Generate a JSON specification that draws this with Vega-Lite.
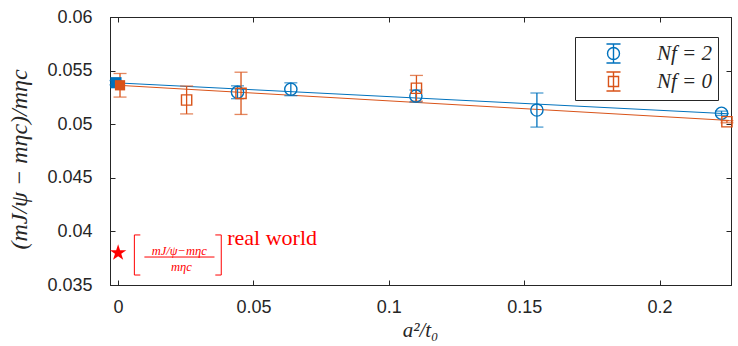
{
  "$schema": "https://vega.github.io/schema/vega-lite/v6.json",
  "width": 621,
  "height": 268,
  "autosize": {"type": "none"},
  "padding": {"left": 110, "top": 17, "right": 7, "bottom": 61},
  "background": "white",
  "config": {
    "view": {"stroke": "#262626", "strokeWidth": 1},
    "axis": {
      "grid": false,
      "domainColor": "#262626",
      "tickColor": "#262626",
      "tickSize": -5,
      "labelFont": "Liberation Sans",
      "labelFontSize": 18,
      "labelColor": "#262626",
      "titleFont": "Liberation Serif",
      "titleFontStyle": "italic",
      "titleFontWeight": "normal",
      "titleFontSize": 21,
      "titleColor": "#262626"
    }
  },
  "datasets": {
    "pts": [
      {"series": "Nf = 2", "a2t0": 0.0441, "r": 0.05298, "err": 0.0006},
      {"series": "Nf = 2", "a2t0": 0.0638, "r": 0.05326, "err": 0.0006},
      {"series": "Nf = 2", "a2t0": 0.1100, "r": 0.05263, "err": 0.00056},
      {"series": "Nf = 2", "a2t0": 0.1547, "r": 0.05132, "err": 0.00159},
      {"series": "Nf = 2", "a2t0": 0.2229, "r": 0.05102, "err": 0.0002},
      {"series": "Nf = 0", "a2t0": 0.0253, "r": 0.05226, "err": 0.0013},
      {"series": "Nf = 0", "a2t0": 0.0454, "r": 0.05288, "err": 0.00197},
      {"series": "Nf = 0", "a2t0": 0.1102, "r": 0.05335, "err": 0.0012},
      {"series": "Nf = 0", "a2t0": 0.2249, "r": 0.05023, "err": 0.0001}
    ],
    "ext": [
      {"series": "Nf = 2", "a2t0": -0.0008, "r": 0.05387, "err": 0.0002},
      {"series": "Nf = 0", "a2t0": 0.0007, "r": 0.05363, "err": 0.0011}
    ],
    "fit": [
      {"series": "Nf = 2", "a2t0": 0.0, "r": 0.05385},
      {"series": "Nf = 2", "a2t0": 0.2256, "r": 0.05097},
      {"series": "Nf = 0", "a2t0": 0.0, "r": 0.05363},
      {"series": "Nf = 0", "a2t0": 0.2256, "r": 0.05035}
    ],
    "phys": [{"a2t0": 0.0, "r": 0.038}],
    "ann": [
      {"piece": "frac", "a2t0": 0.0226, "r": 0.03817, "t": "mJ/ψ−mηc"},
      {"piece": "frac", "a2t0": 0.0234, "r": 0.03668, "t": "mηc"},
      {"piece": "label", "a2t0": 0.0403, "r": 0.03938, "t": "real world"}
    ],
    "segs": [
      {"a2t0": 0.0097, "a2t0_end": 0.0356, "r": 0.03761, "r_end": 0.03761},
      {"a2t0": 0.0060, "a2t0_end": 0.0060, "r": 0.03967, "r_end": 0.03593},
      {"a2t0": 0.0060, "a2t0_end": 0.0082, "r": 0.03967, "r_end": 0.03967},
      {"a2t0": 0.0060, "a2t0_end": 0.0082, "r": 0.03593, "r_end": 0.03593},
      {"a2t0": 0.0381, "a2t0_end": 0.0381, "r": 0.03967, "r_end": 0.03593},
      {"a2t0": 0.0359, "a2t0_end": 0.0381, "r": 0.03967, "r_end": 0.03967},
      {"a2t0": 0.0359, "a2t0_end": 0.0381, "r": 0.03593, "r_end": 0.03593}
    ]
  },
  "resolve": {"axis": {"x": "independent", "y": "independent"}},
  "layer": [
    {
      "layer": [
        {
          "data": {"name": "fit"},
          "transform": [{"filter": "datum.series == 'Nf = 2'"}],
          "mark": {"type": "line", "color": "#0072BD", "strokeWidth": 1},
          "encoding": {
            "x": {"field": "a2t0", "type": "quantitative", "title": "a²/t₀", "scale": {"domain": [-0.003, 0.2264], "nice": false, "zero": false},
              "axis": {"values": [0, 0.05, 0.1, 0.15, 0.2], "labelExpr": "datum.value", "labelPadding": 18, "titleX": 310, "titleY": 45, "titleBaseline": "middle", "titleAnchor": null}},
            "y": {"field": "r", "type": "quantitative", "title": "(mJ/ψ − mηc)/mηc", "scale": {"domain": [0.035, 0.06], "nice": false, "zero": false},
              "axis": {"values": [0.035, 0.04, 0.045, 0.05, 0.055, 0.06], "labelExpr": "datum.value", "labelPadding": 23, "titleX": -91, "titleY": 142, "titleAlign": "center", "titleBaseline": "middle", "titleAnchor": null, "titleFontSize": 24}}
          }
        },
        {
          "data": {"name": "fit"},
          "transform": [{"filter": "datum.series == 'Nf = 0'"}],
          "mark": {"type": "line", "color": "#D95319", "strokeWidth": 1},
          "encoding": {
            "x": {"field": "a2t0", "type": "quantitative", "title": "a²/t₀"},
            "y": {"field": "r", "type": "quantitative", "title": "(mJ/ψ − mηc)/mηc"}
          }
        },
        {
          "data": {"name": "pts"},
          "transform": [{"filter": "datum.series == 'Nf = 2'"}],
          "mark": {"type": "errorbar", "ticks": {"size": 13}, "color": "#0072BD", "thickness": 1.3},
          "encoding": {
            "x": {"field": "a2t0", "type": "quantitative", "title": "a²/t₀"},
            "y": {"field": "r", "type": "quantitative", "title": "(mJ/ψ − mηc)/mηc"},
            "yError": {"field": "err"}
          }
        },
        {
          "data": {"name": "pts"},
          "transform": [{"filter": "datum.series == 'Nf = 0'"}],
          "mark": {"type": "errorbar", "ticks": {"size": 13}, "color": "#D95319", "thickness": 1.3},
          "encoding": {
            "x": {"field": "a2t0", "type": "quantitative", "title": "a²/t₀"},
            "y": {"field": "r", "type": "quantitative", "title": "(mJ/ψ − mηc)/mηc"},
            "yError": {"field": "err"}
          }
        },
        {
          "data": {"name": "ext"},
          "transform": [{"filter": "datum.series == 'Nf = 0'"}],
          "mark": {"type": "errorbar", "ticks": {"size": 13}, "color": "#D95319", "thickness": 1.3},
          "encoding": {
            "x": {"field": "a2t0", "type": "quantitative", "title": "a²/t₀"},
            "y": {"field": "r", "type": "quantitative", "title": "(mJ/ψ − mηc)/mηc"},
            "yError": {"field": "err"}
          }
        },
        {
          "data": {"name": "ext"},
          "transform": [{"filter": "datum.series == 'Nf = 2'"}],
          "mark": {"type": "errorbar", "ticks": {"size": 13}, "color": "#0072BD", "thickness": 1.3},
          "encoding": {
            "x": {"field": "a2t0", "type": "quantitative", "title": "a²/t₀"},
            "y": {"field": "r", "type": "quantitative", "title": "(mJ/ψ − mηc)/mηc"},
            "yError": {"field": "err"}
          }
        },
        {
          "data": {"name": "pts"},
          "transform": [{"filter": "datum.series == 'Nf = 2'"}],
          "mark": {"type": "point", "shape": "circle", "filled": false, "color": "#0072BD", "size": 150, "strokeWidth": 1.4, "opacity": 1},
          "encoding": {
            "x": {"field": "a2t0", "type": "quantitative", "title": "a²/t₀"},
            "y": {"field": "r", "type": "quantitative", "title": "(mJ/ψ − mηc)/mηc"}
          }
        },
        {
          "data": {"name": "pts"},
          "transform": [{"filter": "datum.series == 'Nf = 0'"}],
          "mark": {"type": "point", "shape": "square", "filled": false, "color": "#D95319", "size": 105, "strokeWidth": 1.4, "opacity": 1},
          "encoding": {
            "x": {"field": "a2t0", "type": "quantitative", "title": "a²/t₀"},
            "y": {"field": "r", "type": "quantitative", "title": "(mJ/ψ − mηc)/mηc"}
          }
        },
        {
          "data": {"name": "pts"},
          "mark": {"type": "point", "filled": false, "strokeWidth": 1.4, "opacity": 0},
          "encoding": {
            "x": {"field": "a2t0", "type": "quantitative", "title": "a²/t₀"},
            "y": {"field": "r", "type": "quantitative", "title": "(mJ/ψ − mηc)/mηc"},
            "color": {"field": "series", "type": "nominal", "scale": {"domain": ["Nf = 2", "Nf = 0"], "range": ["#0072BD", "#D95319"]},
              "legend": {"title": null, "orient": "none", "legendX": 465, "legendY": 20, "direction": "vertical", "columns": 1, "strokeColor": "#262626", "fillColor": "white", "padding": 6,
                "symbolOffset": 22, "labelOffset": 88, "labelAlign": "right", "columnPadding": 0, "labelFont": "Liberation Serif", "labelFontStyle": "italic", "labelFontSize": 21, "labelColor": "#262626",
                "symbolSize": 361, "symbolStrokeWidth": 1.4, "symbolOpacity": 1, "symbolFillColor": "transparent", "rowPadding": 3, "labelLimit": 300}},
            "shape": {"field": "series", "type": "nominal", "scale": {"domain": ["Nf = 2", "Nf = 0"], "range": [
              "M-0.74,-1H0.74M0,-1V1M-0.74,1H0.74M0.63,0A0.63,0.63 0 1 1 -0.63,0A0.63,0.63 0 1 1 0.63,0",
              "M-0.74,-1H0.74M0,-1V1M-0.74,1H0.74M-0.53,-0.53H0.53V0.53H-0.53Z"]}}
          }
        },
        {
          "data": {"name": "ext"},
          "transform": [{"filter": "datum.series == 'Nf = 2'"}],
          "mark": {"type": "point", "shape": "square", "filled": true, "color": "#0072BD", "size": 125, "opacity": 1},
          "encoding": {
            "x": {"field": "a2t0", "type": "quantitative", "title": "a²/t₀"},
            "y": {"field": "r", "type": "quantitative", "title": "(mJ/ψ − mηc)/mηc"}
          }
        },
        {
          "data": {"name": "ext"},
          "transform": [{"filter": "datum.series == 'Nf = 0'"}],
          "mark": {"type": "point", "shape": "square", "filled": true, "color": "#D95319", "size": 105, "opacity": 1},
          "encoding": {
            "x": {"field": "a2t0", "type": "quantitative", "title": "a²/t₀"},
            "y": {"field": "r", "type": "quantitative", "title": "(mJ/ψ − mηc)/mηc"}
          }
        },
        {
          "data": {"name": "phys"},
          "mark": {"type": "point", "shape": "M0,-1L0.2245,-0.309L0.951,-0.309L0.363,0.118L0.588,0.809L0,0.382L-0.588,0.809L-0.363,0.118L-0.951,-0.309L-0.2245,-0.309Z", "filled": true, "color": "#FF0000", "size": 300, "opacity": 1},
          "encoding": {
            "x": {"field": "a2t0", "type": "quantitative", "title": "a²/t₀"},
            "y": {"field": "r", "type": "quantitative", "title": "(mJ/ψ − mηc)/mηc"}
          }
        },
        {
          "data": {"name": "ann"},
          "transform": [{"filter": "datum.piece == 'frac'"}],
          "mark": {"type": "text", "font": "Liberation Serif", "fontStyle": "italic", "fontSize": 12.5, "color": "#FF0000", "baseline": "middle", "align": "center"},
          "encoding": {
            "x": {"field": "a2t0", "type": "quantitative", "title": "a²/t₀"},
            "y": {"field": "r", "type": "quantitative", "title": "(mJ/ψ − mηc)/mηc"},
            "text": {"field": "t"}
          }
        },
        {
          "data": {"name": "ann"},
          "transform": [{"filter": "datum.piece == 'label'"}],
          "mark": {"type": "text", "font": "Liberation Serif", "fontSize": 22, "color": "#FF0000", "baseline": "middle", "align": "left"},
          "encoding": {
            "x": {"field": "a2t0", "type": "quantitative", "title": "a²/t₀"},
            "y": {"field": "r", "type": "quantitative", "title": "(mJ/ψ − mηc)/mηc"},
            "text": {"field": "t"}
          }
        },
        {
          "data": {"name": "segs"},
          "mark": {"type": "rule", "color": "#FF0000", "strokeWidth": 1},
          "encoding": {
            "x": {"field": "a2t0", "type": "quantitative", "title": "a²/t₀"},
            "x2": {"field": "a2t0_end"},
            "y": {"field": "r", "type": "quantitative", "title": "(mJ/ψ − mηc)/mηc"},
            "y2": {"field": "r_end"}
          }
        }
      ]
    },
    {
      "data": {"name": "fit"},
      "mark": {"type": "line", "opacity": 0},
      "encoding": {
        "x": {"field": "a2t0", "type": "quantitative", "axis": {"orient": "top", "values": [0, 0.05, 0.1, 0.15, 0.2], "labels": false, "title": null}},
        "y": {"field": "r", "type": "quantitative", "axis": {"orient": "right", "values": [0.035, 0.04, 0.045, 0.05, 0.055, 0.06], "labels": false, "title": null}},
        "detail": {"field": "series"}
      }
    }
  ]
}
